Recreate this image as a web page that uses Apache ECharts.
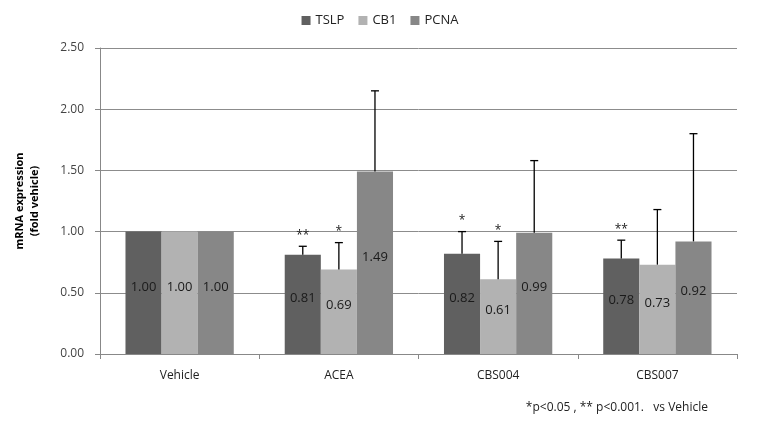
<!DOCTYPE html>
<html><head><meta charset="utf-8">
<script src="https://cdn.jsdelivr.net/npm/echarts@6/dist/echarts.min.js"></script>
<style>html,body{margin:0;padding:0;background:#fff}#c{width:760px;height:422px}</style>
</head><body><div id="c"></div>
<script>
const categories = ['Vehicle', 'ACEA', 'CBS004', 'CBS007'];
const seriesNames = ['TSLP', 'CB1', 'PCNA'];
const tslp = [1.00, 0.81, 0.82, 0.78];
const cb1 = [1.00, 0.69, 0.61, 0.73];
const pcna = [1.00, 1.49, 0.99, 0.92];
const tslpErrTop = [null, 0.88, 1.00, 0.93];
const cb1ErrTop = [null, 0.91, 0.92, 1.18];
const pcnaErrTop = [null, 2.15, 1.58, 1.80];
const tslpSig = ['', '**', '*', '**'];
const cb1Sig = ['', '*', '*', ''];
const pcnaSig = ['', '', '', ''];
const yTicks = [0, 0.5, 1.0, 1.5, 2.0, 2.5];
const footnote = '*p<0.05 , ** p<0.001.   vs Vehicle';

const colors = ['#606060', '#b2b2b2', '#878787'];
const values = [tslp, cb1, pcna];
const errs = [tslpErrTop, cb1ErrTop, pcnaErrTop];
const sigs = [tslpSig, cb1Sig, pcnaSig];
const font = '"Open Sans", "Liberation Sans", Arial, sans-serif';
const gapFrac = 0.32;

const chart = echarts.init(document.getElementById('c'), null, {renderer: 'canvas'});

const barSeries = seriesNames.map((n, i) => ({
  name: n, type: 'bar', data: values[i], barGap: 0, barCategoryGap: '32%',
  itemStyle: {color: colors[i]},
  label: {show: true, position: 'inside', offset: [0, -6], formatter: p => p.value.toFixed(2),
    color: '#1a1a1a', fontSize: 13, fontFamily: font}
}));

const errSeries = seriesNames.map((n, i) => ({
  type: 'custom', silent: true, z: 5,
  data: categories.map((c, k) => [k, values[i][k], errs[i][k], sigs[i][k]]),
  encode: {x: 0, y: [1, 2]},
  renderItem: function (params, api) {
    const k = api.value(0);
    const v = api.value(1);
    const e = errs[i][k];
    const s = sigs[i][k];
    const band = api.size([1, 0])[0];
    const bw = band * (1 - gapFrac) / 3;
    const base = api.coord([k, v]);
    const x = base[0] + (i - 1) * bw;
    const children = [];
    if (e != null) {
      const top = api.coord([k, e]);
      children.push({type: 'line', shape: {x1: x, y1: base[1], x2: x, y2: top[1]}, style: {stroke: '#000', lineWidth: 1.3}});
      children.push({type: 'line', shape: {x1: x - 4, y1: top[1], x2: x + 4, y2: top[1]}, style: {stroke: '#000', lineWidth: 1.3}});
      if (s) {
        children.push({type: 'text', style: {text: s, x: x, y: top[1] - 5, textAlign: 'center', textVerticalAlign: 'bottom', fill: '#222', font: '12px ' + font}});
      }
    }
    return {type: 'group', children: children};
  }
}));

chart.setOption({
  animation: false,
  color: colors,
  legend: {
    data: seriesNames, top: 9, left: 'center', itemWidth: 9, itemHeight: 9, itemGap: 14,
    icon: 'rect', textStyle: {fontSize: 13, color: '#222', fontFamily: font}
  },
  grid: {left: 100, right: 23, top: 48, bottom: 68},
  xAxis: {
    type: 'category', data: categories,
    axisLine: {lineStyle: {color: '#888'}},
    axisTick: {show: true, length: 5, lineStyle: {color: '#888'}},
    axisLabel: {color: '#222', fontSize: 12, margin: 16, fontFamily: font}
  },
  yAxis: {
    type: 'value', min: 0, max: 2.5, interval: 0.5,
    name: 'mRNA expression\n(fold vehicle)', nameLocation: 'middle', nameGap: 58, nameRotate: 90,
    nameTextStyle: {fontWeight: 'bold', fontSize: 11, color: '#000', fontFamily: font, lineHeight: 15},
    axisLine: {show: true, lineStyle: {color: '#888'}},
    axisTick: {show: true, length: 5, inside: false, lineStyle: {color: '#888'}},
    axisLabel: {color: '#444', fontSize: 12, margin: 16, fontFamily: font, formatter: v => v.toFixed(2)},
    splitLine: {lineStyle: {color: '#8c8c8c'}}
  },
  graphic: [{type: 'text', right: 52, top: 402, style: {text: footnote, fill: '#222', font: '12px ' + font}}],
  series: [...barSeries, ...errSeries]
});
</script></body></html>
